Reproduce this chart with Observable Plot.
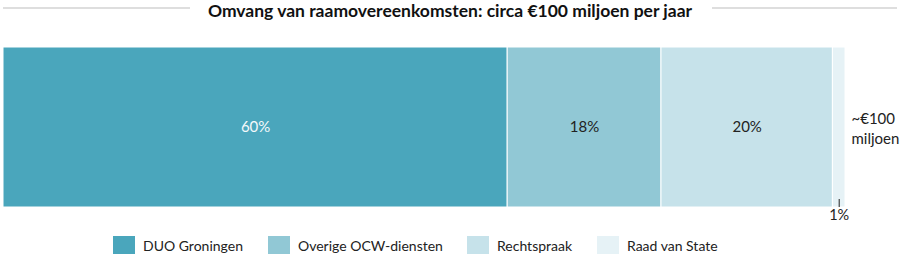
<!DOCTYPE html>
<html><head><meta charset="utf-8">
<script src="https://cdn.jsdelivr.net/npm/d3@7"></script>
<script src="https://cdn.jsdelivr.net/npm/@observablehq/plot@0.6"></script>
<style>
body{margin:0;background:#fff;font-family:Lato,"Open Sans",sans-serif;width:900px;height:262px;overflow:hidden}
#title{position:relative;height:22px;display:flex;align-items:center;justify-content:center}
#title .line{position:absolute;top:7px;height:2px;background:#dedede}
#title span{font-weight:bold;font-size:17.5px;color:#111;position:relative;top:-1px}
#legend{position:absolute;top:236px;left:0;width:900px;display:flex;font-size:14px;color:#222}
.item{position:absolute;display:flex;align-items:center;white-space:nowrap}
.sw{width:22px;height:18px;margin-right:8px}
#chart{position:absolute;top:20px;left:0}
</style></head><body>
<div id="title"><div class="line" style="left:3px;width:187px"></div><span>Omvang van raamovereenkomsten: circa €100 miljoen per jaar</span><div class="line" style="left:712px;width:185px"></div></div>
<div id="chart"></div>
<div id="legend"></div>
<script>
const categories = ["DUO Groningen", "Overige OCW-diensten", "Rechtspraak", "Raad van State"];
const shares = [60, 18.3, 20.4, 1.5];
const shareLabels = ["60%", "18%", "20%", "1%"];
const colors = ["#4aa6bc", "#91c8d5", "#c6e2ea", "#e6f2f6"];
const totalLabel = "~€100\nmiljoen";

const ends = Array.from(d3.cumsum(shares));
const rows = categories.map((c, i) => ({
  name: c, start: ends[i] - shares[i], end: ends[i], label: shareLabels[i]
}));
const total = ends[ends.length - 1];
const inBar = rows.slice(0, 3);
const small = rows[3];

const plot = Plot.plot({
  width: 900, height: 205,
  marginLeft: 3, marginRight: 55, marginTop: 27, marginBottom: 18,
  x: {domain: [0, total], axis: null},
  color: {domain: categories, range: colors},
  marks: [
    Plot.barX(rows, {x1: "start", x2: "end", fill: "name", stroke: "white", strokeWidth: 1}),
    Plot.text(inBar, {x: d => (d.start + d.end) / 2, text: "label", fontSize: 15,
      fill: (d, i) => i === 0 ? "#f4f9fb" : "#222"}),
    Plot.ruleX([small], {x: d => (d.start + d.end) / 2, insetTop: 152, stroke: "#222", strokeWidth: 1}),
    Plot.text([small], {x: d => (d.start + d.end) / 2, text: "label", frameAnchor: "bottom", dy: 12, fontSize: 14.5, fill: "#222"}),
    Plot.text([totalLabel], {x: () => total, text: d => d, textAnchor: "start", dx: 6, fontSize: 15, lineHeight: 1.35, fill: "#222"})
  ],
  style: {fontFamily: "Lato, 'Open Sans', sans-serif", overflow: "visible"}
});
document.getElementById("chart").append(plot);

const legendX = [113, 268, 467, 597];
const legend = document.getElementById("legend");
categories.forEach((c, i) => {
  const it = document.createElement("div");
  it.className = "item";
  it.style.left = legendX[i] + "px";
  it.innerHTML = `<div class="sw" style="background:${colors[i]}"></div><span>${c}</span>`;
  legend.append(it);
});
</script>
</body></html>
